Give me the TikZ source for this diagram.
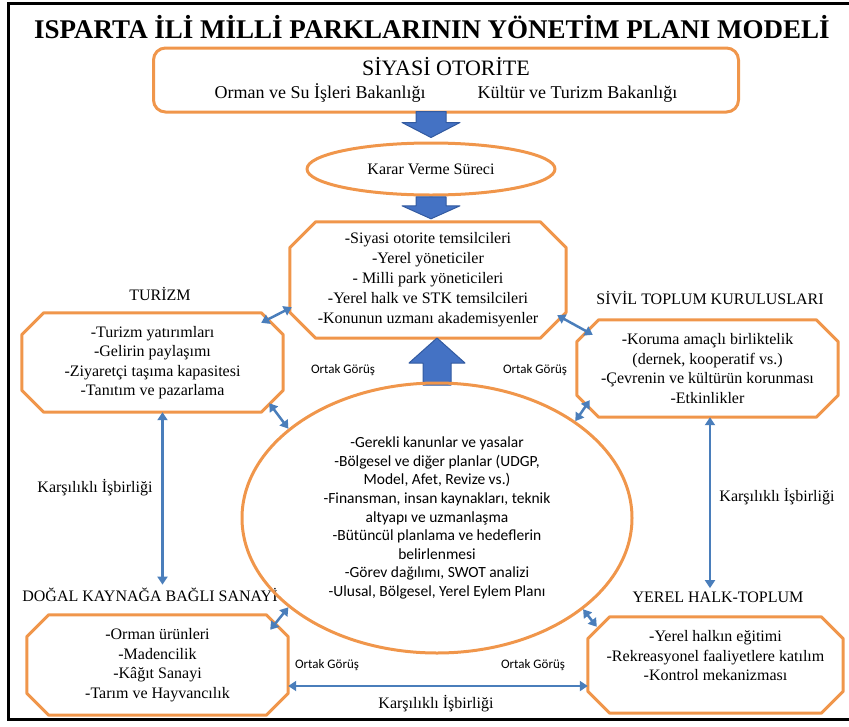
\documentclass[tikz,border=0pt]{standalone}
\usepackage{fontspec}
\setmainfont{Liberation Serif}
\newfontfamily\carlito{Carlito}
\usetikzlibrary{arrows.meta,shapes.geometric}
\definecolor{boxorange}{RGB}{240,150,75}
\definecolor{linkblue}{RGB}{74,126,187}
\definecolor{arrowfill}{RGB}{68,114,196}
\definecolor{arrowline}{RGB}{50,90,160}
% octagon drawn round a node
\newcommand{\cutbox}[2]{\draw[boxline] ([xshift=#2]#1.north west) -- ([xshift=-#2]#1.north east) -- ([yshift=-#2]#1.north east) -- ([yshift=#2]#1.south east) -- ([xshift=-#2]#1.south east) -- ([xshift=#2]#1.south west) -- ([yshift=#2]#1.south west) -- ([yshift=-#2]#1.north west) -- cycle;}

\begin{document}
\begin{tikzpicture}[x=1pt,y=-1pt]
\tikzset{boxline/.style = {draw=boxorange, line width=3pt, line join=round}}
\tikzset{panel/.style = {inner sep=0pt, align=center, font=\fontsize{16}{19.5}\selectfont}}
\tikzset{oval/.style = {shape=ellipse, boxline, inner sep=0pt, align=center}}
\tikzset{heading/.style = {font=\fontsize{16}{19}\selectfont}}
\tikzset{shared/.style = {font=\carlito\fontsize{13}{15}\selectfont}}
\tikzset{mutual/.style = {font=\fontsize{16}{19}\selectfont}}
\tikzset{link/.style = {draw=linkblue, line width=2.5pt, {Triangle[width=10pt,length=8pt]}-{Triangle[width=10pt,length=8pt]}}}
\tikzset{bigarrow/.style = {fill=arrowfill, draw=arrowline, line width=1pt, line join=round}}
\useasboundingbox (0,0) rectangle (849,726);
% frame and title
\draw[line width=3pt] (8.5,3.5) rectangle (853,719);
\node[font=\bfseries\fontsize{27}{30}\selectfont] (title) at (432,27) {ISPARTA İLİ MİLLİ PARKLARININ YÖNETİM PLANI MODELİ};
% top of the model
\node[boxline, rounded corners=12pt, minimum width=585pt, minimum height=64pt, inner sep=0pt, align=center, font=\fontsize{18}{23}\selectfont] (sys) at (446,80)
  {{\fontsize{22}{23}\selectfont SİYASİ OTORİTE}\\Orman ve Su İşleri Bakanlığı\hspace{52pt}Kültür ve Turizm Bakanlığı};
\node[oval, minimum width=248pt, minimum height=52pt, font=\fontsize{16}{19}\selectfont] (krr) at (431,169) {Karar Verme Süreci};
\node[panel, minimum width=276pt, minimum height=116pt, font=\fontsize{16}{20}\selectfont] (ctr) at (428,280)
  {-Siyasi otorite temsilcileri\\-Yerel yöneticiler\\- Milli park yöneticileri\\-Yerel halk ve STK temsilcileri\\-Konunun uzmanı akademisyenler};
\cutbox{ctr}{26pt}
% side boxes
\node[heading] (turlbl) at (160,294) {TURİZM};
\node[panel, minimum width=261pt, minimum height=99pt] (tur) at (152.5,362.5)
  {-Turizm yatırımları\\-Gelirin paylaşımı\\-Ziyaretçi taşıma kapasitesi\\-Tanıtım ve pazarlama};
\cutbox{tur}{22pt}
\node[heading] (sivlbl) at (710,298) {SİVİL TOPLUM KURULUSLARI};
\node[panel, minimum width=261pt, minimum height=97pt] (siv) at (707.5,368.5)
  {-Koruma amaçlı birliktelik\\(dernek, kooperatif vs.)\\-Çevrenin ve kültürün korunması\\-Etkinlikler};
\cutbox{siv}{22pt}
\node[heading] (doglbl) at (150,595) {DOĞAL KAYNAĞA BAĞLI SANAYİ};
\node[panel, minimum width=261pt, minimum height=100pt] (dog) at (157.5,665)
  {-Orman ürünleri\\-Madencilik\\-Kâğıt Sanayi\\-Tarım ve Hayvancılık};
\cutbox{dog}{22pt}
\node[heading] (yerlbl) at (718,597) {YEREL HALK-TOPLUM};
\node[panel, minimum width=255pt, minimum height=96pt] (yer) at (715.5,665) {};
\node[panel] (yertxt) at ([yshift=9pt]yer.center)
  {-Yerel halkın eğitimi\\-Rekreasyonel faaliyetlere katılım\\-Kontrol mekanizması};
\cutbox{yer}{22pt}
% block arrows
\draw[bigarrow] ([yshift=4pt]krr.north) -- ++(-29,-15) -- ++(14,0) -- ++(0,-11) -- ++(30,0) -- ++(0,11) -- ++(14,0) -- cycle;
\draw[bigarrow] ([yshift=3pt]krr.south |- ctr.north) -- ++(-29,-13) -- ++(14,0) -- ++(0,-9) -- ++(30,0) -- ++(0,9) -- ++(14,0) -- cycle;
\draw[bigarrow] (437,338) -- ++(28,25) -- ++(-14,0) -- ++(0,22) -- ++(-28,0) -- ++(0,-22) -- ++(-14,0) -- cycle;
% central ellipse
\node[oval, minimum width=390pt, minimum height=270pt, font=\carlito\fontsize{15.5}{18.6}\selectfont] (ell) at (437,518)
  {-Gerekli kanunlar ve yasalar\\-Bölgesel ve diğer planlar (UDGP,\\Model, Afet, Revize vs.)\\-Finansman, insan kaynakları, teknik\\altyapı ve uzmanlaşma\\-Bütüncül planlama ve hedeflerin\\belirlenmesi\\-Görev dağılımı, SWOT analizi\\-Ulusal, Bölgesel, Yerel Eylem Planı};
% edges
\draw[link] ([shift={(-22,10)}]tur.north east) -- ([shift={(2,-31)}]ctr.south west);
\draw[link] ([shift={(-14,-9)}]tur.south east) -- (ell.149);
\draw[link] ([shift={(16,15)}]siv.north west) -- ([shift={(-9,-23)}]ctr.south east);
\draw[link] ([shift={(13,-17)}]siv.south west) -- (ell.35);
\draw[link] ([shift={(-18,15)}]dog.north east) -- (ell.211);
\draw[link] ([shift={(9,10)}]yer.north west) -- (ell.328);
\draw[link] ([xshift=10pt]tur.south) -- ([xshift=10pt]tur.south |- doglbl.north);
\draw[link] ([xshift=2.5pt]siv.south) -- ([xshift=2.5pt]siv.south |- yerlbl.north);
\draw[link] ([yshift=-21pt]dog.east) -- ([yshift=-21pt]yer.west);
% edge labels
\node[shared] (og1) at (343,370) {Ortak Görüş};
\node[shared] (og2) at (535,370) {Ortak Görüş};
\node[shared] (og3) at (327,665) {Ortak Görüş};
\node[shared] (og4) at (533,665) {Ortak Görüş};
\node[mutual] (kb1) at (95,488) {Karşılıklı İşbirliği};
\node[mutual] (kb2) at (777,497) {Karşılıklı İşbirliği};
\node[mutual] (kb3) at (436,704) {Karşılıklı İşbirliği};
\end{tikzpicture}
\end{document}
